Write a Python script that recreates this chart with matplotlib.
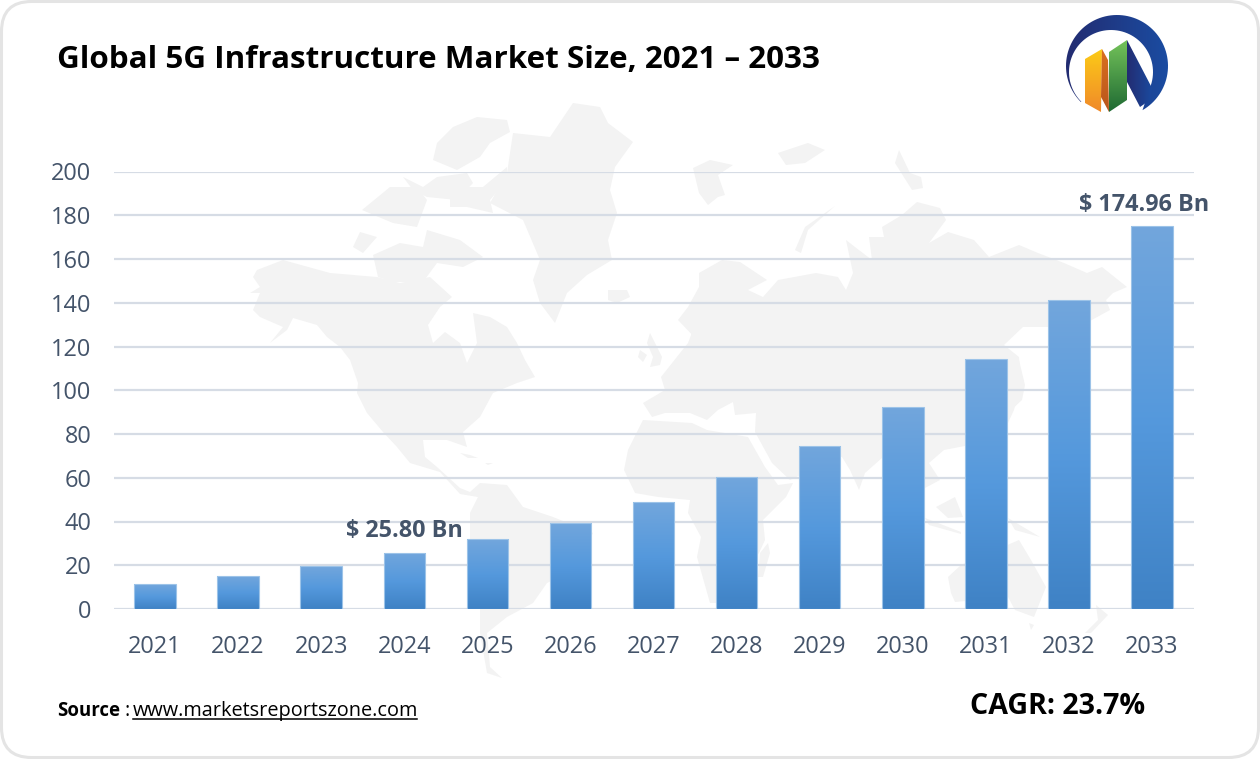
import numpy as np
import matplotlib
matplotlib.use("Agg")
import matplotlib.pyplot as plt
from matplotlib.colors import LinearSegmentedColormap
from matplotlib.patches import FancyBboxPatch, Polygon


years = [2021, 2022, 2023, 2024, 2025, 2026, 2027, 2028, 2029, 2030, 2031, 2032, 2033]
sizes = [11.3, 15.0, 19.6, 25.8, 31.9, 39.5, 48.8, 60.4, 74.7, 92.4, 114.3, 141.4, 174.96]
yticks = [0, 20, 40, 60, 80, 100, 120, 140, 160, 180, 200]

W, H = 1260, 759
text_col = "#44546a"
map_col = "#f3f3f3"

# world map in the background, traced roughly in image pixels
greenland = [(573,103),(600,107),(608,123),(633,142),(615,167),(610,190),(617,213),(608,240),(612,260),
             (587,275),(567,293),(555,323),(540,303),(533,280),(540,260),(523,220),(490,203),(507,173),
             (513,133),(550,137)]
americas = [(257,270),(283,260),(330,273),(377,277),(400,283),(430,277),(452,297),(440,307),(428,325),(433,343),
            (445,332),(460,343),(467,363),(477,343),(473,313),(490,317),(507,327),(517,343),(525,360),(535,377),
            (517,383),(493,393),(480,417),(463,432),(467,447),(447,440),(423,440),(425,457),(437,467),(460,488),
            (470,492),(480,483),(507,485),(523,507),(553,517),(593,533),(573,570),(547,583),(533,603),(507,617),
            (487,633),(490,667),(502,678),(487,673),(480,633),(480,583),(470,543),(470,513),(478,497),(460,494),
            (440,472),(410,463),(397,447),(383,432),(367,413),(357,393),(358,383),(350,360),(340,347),(327,337),
            (317,325),(293,318),(287,330),(270,343),(283,327),(260,317),(253,310),(260,293),(250,293),(260,287),
            (253,277)]
arctic = [[(362,210),(390,187),(417,187),(427,200),(417,227),(393,223)],
          [(353,247),(360,232),(377,237),(363,253)],
          [(373,255),(400,243),(423,247),(427,230),(437,233),(460,240),(483,257),(463,267),(437,263),(423,282),
           (393,282),(378,277)],
          [(483,187),(507,167),(507,180),(490,200),(493,213),(467,207),(450,207),(450,197),(463,187)],
          [(437,143),(453,127),(477,117),(507,120),(510,132),(490,143),(480,157),(457,170),(433,160)],
          [(403,177),(423,187),(437,177),(467,173),(473,183),(457,200),(427,197),(413,190)]]
eurasia = [(699,273),(722,260),(740,262),(767,280),(748,290),(763,297),(778,280),(816,273),(838,277),(846,290),
           (853,273),(846,240),(855,247),(872,260),(869,237),(884,237),(882,227),(902,215),(917,202),(940,208),
           (946,220),(929,243),(948,232),(974,240),(989,257),(1019,245),(1038,253),(1064,263),(1087,273),(1102,267),
           (1127,287),(1113,293),(1106,300),(1110,310),(1079,327),(1023,327),(1004,345),(1019,357),(1021,383),
           (1014,410),(1000,440),(970,445),(944,450),(929,463),(940,480),(925,488),(915,470),(882,458),(865,473),
           (859,490),(850,470),(842,457),(820,450),(815,468),(790,480),(772,463),(755,432),(756,413),(735,415),
           (733,402),(718,410),(707,420),(690,413),(665,413),(652,417),(643,403),(665,390),(661,377),(680,353),
           (688,343),(693,330),(697,340),(678,320),(688,307),(699,287)]
africa = [(643,420),(692,423),(707,430),(748,437),(765,467),(778,485),(793,483),(786,497),(763,520),(765,540),
          (759,553),(733,587),(718,603),(710,603),(697,557),(701,537),(688,513),(690,500),(658,497),(635,493),
          (624,470),(628,450)]
australia = [(948,577),(961,565),(1019,540),(1031,560),(1046,587),(1034,617),(1015,610),(1008,597),(955,602),(951,593)]
islands = [[(693,168),(710,160),(733,165),(718,175),(725,195),(718,197),(708,205),(699,193)],
           [(778,153),(808,143),(825,150),(805,163),(786,165)],
           [(835,206),(805,227),(795,250),(801,253),(808,230)],
           [(899,150),(910,173),(921,177),(923,188),(912,190),(895,163)],
           [(608,290),(627,290),(630,297),(617,303),(608,300)],
           [(650,333),(655,343),(662,357),(660,365),(650,367),(653,357),(647,343)],
           [(640,350),(647,355),(643,362),(638,357)],
           [(768,543),(770,553),(763,577),(758,577),(760,553)],
           [(1019,360),(1025,385),(1022,400),(1008,413),(1012,400),(1018,385)],
           [(936,507),(955,497),(963,517),(948,518)],
           [(925,518),(961,532),(961,534),(929,525)],
           [(1008,518),(1040,537),(1015,530)],
           [(1029,623),(1034,625),(1031,630)],
           [(1096,605),(1108,615),(1091,633),(1085,633),(1098,620)],
           [(460,453),(470,455),(478,458),(468,458)],
           [(485,463),(493,463),(488,465)]]

# logo pieces, image pixels
t = np.radians(np.linspace(225, -60, 90))
ring_out = np.c_[1117 + 51 * np.cos(t), 66 - 51 * np.sin(t)]
t2 = np.radians(np.linspace(-22, 225, 70))
ring_in = np.c_[1111 + 42 * np.cos(t2), 72 - 42 * np.sin(t2)]
ring = np.vstack([ring_out, ring_in])
stroke = [(1127,40),(1152,88),(1150,100),(1140,107),(1127,82)]
bar_yellow = [(1085,59),(1102,49),(1101,112),(1085,103)]
bar_orange = [(1102,49),(1108,60),(1109,112),(1101,97)]
bar_green = [(1109,52),(1127,40),(1127,100),(1109,112)]


def gradient(ax, colors, extent, clip, vertical=True, zorder=3):
    # paints a colour ramp and clips it to the given patch
    cmap = LinearSegmentedColormap.from_list("g", colors)
    ramp = np.linspace(0, 1, 128)
    ramp = ramp.reshape(-1, 1) if vertical else ramp.reshape(1, -1)
    im = ax.imshow(ramp, cmap=cmap, extent=extent, aspect="auto", origin="upper", zorder=zorder)
    im.set_clip_path(clip)
    return im


fig = plt.figure(figsize=(W / 100, H / 100), dpi=100, facecolor="#ffffff")

bg = fig.add_axes([0, 0, 1, 1])
bg.set_xlim(0, W)
bg.set_ylim(H, 0)
bg.axis("off")

card = FancyBboxPatch((1.5, 1.5), W - 3, H - 3, boxstyle="round,pad=0,rounding_size=30",
                      fc="white", ec="#e4e4e4", lw=2.2, zorder=0)
bg.add_patch(card)
for shape in [greenland, americas, eurasia, africa, australia] + arctic + islands:
    bg.add_patch(Polygon(shape, closed=True, fc=map_col, ec="none", zorder=1))

# chart
left, right, top, bottom = 113.5, 1193.5, 171.5, 609
ax = fig.add_axes([left / W, 1 - bottom / H, (right - left) / W, (bottom - top) / H])
ax.patch.set_alpha(0)
x = np.arange(len(years))
bars = ax.bar(x, sizes, width=0.5, color="none", edgecolor="#9cc3e8", lw=0.8, zorder=4)
for rect, val, xi in zip(bars, sizes, x):
    gradient(ax, ["#72a6dc", "#5599dd", "#3f82c5"], [xi - 0.25, xi + 0.25, 0, val], rect)
ax.set_xlim(-0.5, len(years) - 0.5)
ax.set_ylim(0, 200)
ax.set_yticks(yticks)
ax.set_xticks(x)
ax.set_xticklabels(years)
ax.tick_params(axis="both", length=0, labelsize=16.9, labelcolor=text_col, labelfontfamily="Open Sans")
ax.tick_params(axis="x", pad=19)
ax.tick_params(axis="y", pad=16)
ax.grid(axis="y", color="#d6dce5", lw=1.6, zorder=2)
ax.set_axisbelow(True)
for s in ax.spines.values():
    s.set_visible(False)

ax.annotate("$ 25.80 Bn", (3, sizes[3]), xytext=(0, 7), textcoords="offset points", ha="center", va="bottom",
            fontsize=16.8, fontweight="bold", color=text_col, family="Open Sans", parse_math=False)
ax.annotate("$ 174.96 Bn", (12, sizes[12]), xytext=(-6, 7), textcoords="offset points", ha="center", va="bottom",
            fontsize=16.8, fontweight="bold", color=text_col, family="Open Sans", parse_math=False)

# texts around the chart
bg.text(57, 60, "Global 5G Infrastructure Market Size, 2021 – 2033", fontsize=22.6, fontweight="bold",
        color="black", family="Open Sans", va="center", ha="left")
bg.text(57, 711, "Source", fontsize=13.4, fontweight="bold", color="black", family="Open Sans", va="center")
bg.text(124, 711, ":", fontsize=14.3, color="black", family="Open Sans", va="center")
bg.text(133, 711, "www.marketsreportszone.com", fontsize=14.3, color="black", family="Open Sans", va="center")
bg.plot([133, 417], [719, 719], color="black", lw=1.1, zorder=4)
bg.text(970, 706, "CAGR: 23.7%", fontsize=20.6, fontweight="bold", color="black", family="Open Sans", va="center")

# logo
pieces = []
for pts in [ring, stroke, bar_yellow, bar_orange, bar_green]:
    p = Polygon(pts, closed=True, fc="none", ec="none", transform=bg.transData)
    bg.add_patch(p)
    pieces.append(p)
gradient(bg, ["#232a6e", "#1a4da3"], [1060, 1172, 115, 10], pieces[0], vertical=False)
gradient(bg, ["#232a6e", "#1a4da3"], [1125, 1155, 115, 10], pieces[1], vertical=False)
gradient(bg, ["#fccb17", "#f0892a"], [1085, 1102, 112, 49], pieces[2])
gradient(bg, ["#d9701f", "#b9551c"], [1101, 1109, 112, 49], pieces[3])
gradient(bg, ["#74c35a", "#1f6a33"], [1109, 1127, 112, 40], pieces[4])
bg.set_xlim(0, W)
bg.set_ylim(H, 0)
bg.set_aspect("auto")

fig.savefig("out.png", dpi=100)
